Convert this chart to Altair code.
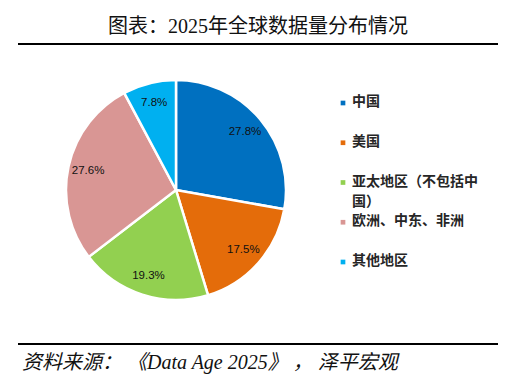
import altair as alt
import pandas as pd

categories = ["中国", "美国", "亚太地区（不包括中国）", "欧洲、中东、非洲", "其他地区"]
legend_labels = ["中国", "美国", "亚太地区（不包括中\n国）", "欧洲、中东、非洲", "其他地区"]
values = [27.8, 17.5, 19.3, 27.6, 7.8]
colors = ["#0070C0", "#E46C0A", "#92D050", "#D99694", "#00B0F0"]

title_text = "图表：2025年全球数据量分布情况"
source_text = "资料来源：  《Data Age 2025》 ， 泽平宏观"

df = pd.DataFrame({
    "cat": categories,
    "legend": legend_labels,
    "value": values,
    "order": list(range(len(categories))),
    "label": [f"{v:.1f}%" for v in values],
})

W, H = 500, 374
cx, cy, R = 168, 182, 110

color = alt.Color("cat:N", scale=alt.Scale(domain=categories, range=colors), legend=None)

base = alt.Chart(df)

pie = base.mark_arc(outerRadius=R, stroke="white", strokeWidth=2.5).encode(
    theta=alt.Theta("value:Q", stack=True),
    order=alt.Order("order:Q"),
    color=color,
    x=alt.value(cx), y=alt.value(cy),
)

pie_labels = base.mark_text(radius=90, font="Liberation Sans", fontSize=11.5, color="#111111").encode(
    theta=alt.Theta("value:Q", stack=True),
    order=alt.Order("order:Q"),
    text="label:N",
    x=alt.value(cx), y=alt.value(cy),
)

ypos = alt.Y("cat:N", sort=categories, axis=None,
             scale=alt.Scale(type="point", domain=categories, range=[95, 254], padding=0))

leg_sq = base.mark_square(size=22, opacity=1).encode(
    x=alt.value(335), y=ypos, color=color,
)
leg_txt = base.mark_text(align="left", baseline="top", dy=-8, lineBreak="\n", lineHeight=20,
                         font="Noto Sans CJK SC", fontSize=14, fontWeight="bold",
                         color="#262626").encode(
    x=alt.value(344), y=ypos, text="legend:N",
)

title = alt.Chart(pd.DataFrame({"t": [title_text]})).mark_text(
    font="Liberation Serif, Noto Sans CJK SC", fontSize=20, color="#111111",
    align="center", baseline="middle").encode(
    x=alt.value(250), y=alt.value(19), text="t:N")

source = alt.Chart(pd.DataFrame({"t": [source_text]})).mark_text(
    font="Liberation Serif, Noto Sans CJK SC", fontSize=20, fontStyle="italic", color="#111111",
    align="left", baseline="middle").encode(
    x=alt.value(14), y=alt.value(355), text="t:N")

line_top = alt.Chart(pd.DataFrame({"a": [0]})).mark_rule(color="black", strokeWidth=2).encode(
    x=alt.value(10), x2=alt.value(490), y=alt.value(36))
line_bot = alt.Chart(pd.DataFrame({"a": [0]})).mark_rule(color="black", strokeWidth=2).encode(
    x=alt.value(10), x2=alt.value(490), y=alt.value(336))

chart = alt.layer(pie, pie_labels, leg_sq, leg_txt, title, source, line_top, line_bot).properties(
    width=W, height=H, padding=0,
    autosize=alt.AutoSizeParams(type="fit", contains="padding"),
).configure_view(stroke=None)

chart.save("out.html", embed_options={"renderer": "svg", "actions": False})
